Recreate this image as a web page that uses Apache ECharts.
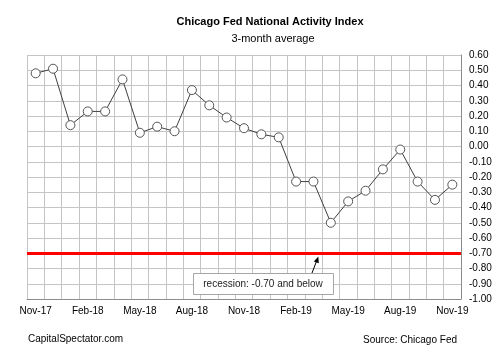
<!DOCTYPE html>
<html>
<head>
<meta charset="utf-8">
<script src="https://cdn.jsdelivr.net/npm/echarts@6/dist/echarts.min.js"></script>
<style>html,body{margin:0;padding:0;background:#fff}#c{width:500px;height:357px}</style>
</head>
<body>
<div id="c"></div>
<script>
var categories = ['Nov-17','Dec-17','Jan-18','Feb-18','Mar-18','Apr-18','May-18','Jun-18','Jul-18','Aug-18','Sep-18','Oct-18','Nov-18','Dec-18','Jan-19','Feb-19','Mar-19','Apr-19','May-19','Jun-19','Jul-19','Aug-19','Sep-19','Oct-19','Nov-19'];
var cfnai3m = [0.48,0.51,0.14,0.23,0.23,0.44,0.09,0.13,0.10,0.37,0.27,0.19,0.12,0.08,0.06,-0.23,-0.23,-0.50,-0.36,-0.29,-0.15,-0.02,-0.23,-0.35,-0.25];
var recessionLevel = -0.70;
var titleText = 'Chicago Fed National Activity Index';
var subtitleText = '3-month average';
var noteText = 'recession: -0.70 and below';
var creditText = 'CapitalSpectator.com';
var sourceText = 'Source: Chicago Fed';

var FONT = "'Liberation Sans', Arial, sans-serif";
var chart = echarts.init(document.getElementById('c'), null, {renderer: 'canvas'});
chart.setOption({
  animation: false,
  backgroundColor: '#fff',
  grid: {left: 27, right: 39, top: 55, bottom: 58, containLabel: false},
  xAxis: {
    type: 'category',
    data: categories,
    boundaryGap: true,
    axisLine: {show: true, onZero: false, lineStyle: {color: '#8c8c8c', width: 1}},
    axisTick: {show: false},
    axisLabel: {interval: 2, color: '#000', fontSize: 10, fontFamily: FONT, margin: 7},
    splitLine: {show: true, interval: 0, lineStyle: {color: '#c4c4c4', width: 1}}
  },
  yAxis: {
    type: 'value',
    position: 'right',
    min: -1.0,
    max: 0.6,
    interval: 0.1,
    axisLine: {show: true, lineStyle: {color: '#8c8c8c', width: 1}},
    axisTick: {show: false},
    axisLabel: {
      color: '#000', fontSize: 10, fontFamily: FONT, margin: 8,
      formatter: function (v) { if (Math.abs(v) < 1e-9) v = 0; return v.toFixed(2); }
    },
    splitLine: {show: true, lineStyle: {color: '#c4c4c4', width: 1}}
  },
  series: [{
    type: 'line',
    data: cfnai3m,
    symbol: 'circle',
    symbolSize: 9,
    showSymbol: true,
    lineStyle: {color: '#404040', width: 1},
    itemStyle: {color: '#fff', borderColor: '#555', borderWidth: 1},
    z: 5,
    markLine: {
      silent: true,
      symbol: ['none', 'none'],
      label: {show: false},
      lineStyle: {color: '#ff0000', width: 3, type: 'solid'},
      data: [{yAxis: recessionLevel}],
      z: 3
    }
  }],
  graphic: [
    {type: 'text', x: 270, y: 22, style: {text: titleText, font: 'bold 11px ' + FONT, fill: '#000', textAlign: 'center', textVerticalAlign: 'middle'}},
    {type: 'text', x: 273, y: 39, style: {text: subtitleText, font: '11px ' + FONT, fill: '#000', textAlign: 'center', textVerticalAlign: 'middle'}},
    {type: 'text', x: 28, y: 339, style: {text: creditText, font: '10px ' + FONT, fill: '#000', textAlign: 'left', textVerticalAlign: 'middle'}},
    {type: 'text', x: 457, y: 340, style: {text: sourceText, font: '10px ' + FONT, fill: '#000', textAlign: 'right', textVerticalAlign: 'middle'}},
    {type: 'rect', shape: {x: 193.5, y: 273.5, width: 140, height: 21}, style: {fill: '#fff', stroke: '#a6a6a6', lineWidth: 1}, z: 10},
    {type: 'text', x: 263, y: 284, style: {text: noteText, font: '10px ' + FONT, fill: '#222', textAlign: 'center', textVerticalAlign: 'middle'}, z: 11},
    {type: 'line', shape: {x1: 312, y1: 273, x2: 316.6, y2: 261}, style: {stroke: '#000', lineWidth: 1}, z: 10},
    {type: 'polygon', shape: {points: [[318.3, 256.5], [313.9, 261.6], [318.8, 263.2]]}, style: {fill: '#000'}, z: 10}
  ]
});
</script>
</body>
</html>
